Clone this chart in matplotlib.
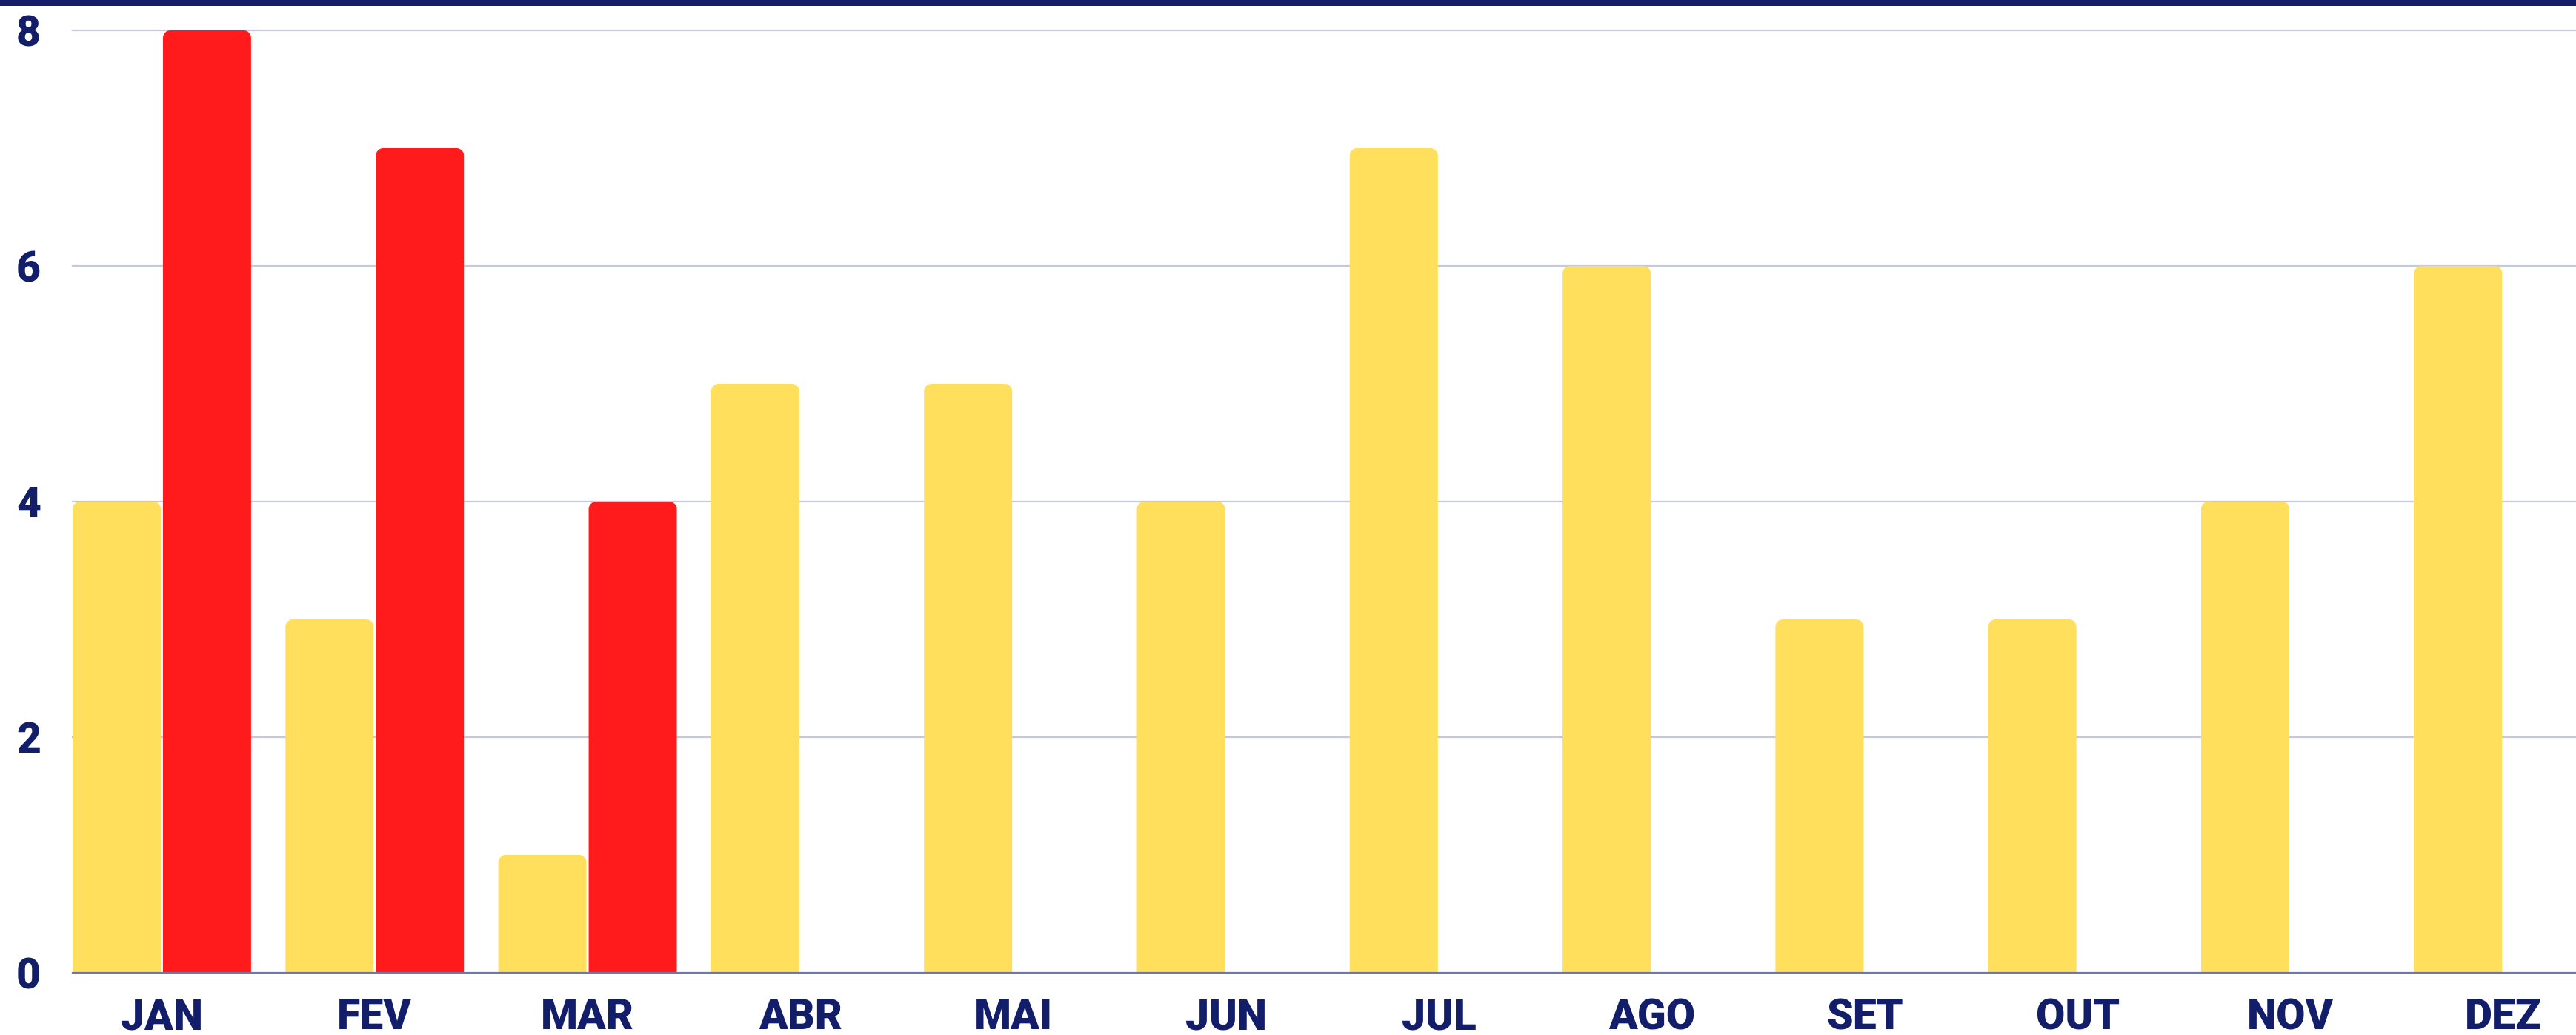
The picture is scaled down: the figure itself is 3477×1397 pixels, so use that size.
import numpy as np
import matplotlib
matplotlib.use("Agg")
import matplotlib.pyplot as plt
from matplotlib.path import Path
from matplotlib.patches import PathPatch, Rectangle

months = ["JAN", "FEV", "MAR", "ABR", "MAI", "JUN", "JUL", "AGO", "SET", "OUT", "NOV", "DEZ"]
serie_amarela = [4, 3, 1, 5, 5, 4, 7, 6, 3, 3, 4, 6]
serie_vermelha = [8, 7, 4, np.nan, np.nan, np.nan, np.nan, np.nan, np.nan, np.nan, np.nan, np.nan]
yticks = [0, 2, 4, 6, 8]

NAVY = "#131e6b"
YELLOW = "#ffdf5b"
RED = "#ff1a1c"
GRID = "#c6c8dc"
BASE = "#6f77a9"

W, H = 3477, 1397
fig = plt.figure(figsize=(W / 100, H / 100), dpi=100)
fig.patch.set_facecolor("white")

ax_left, ax_right = 98, 3477
ax_top, ax_bottom = 41, 1313
ax = fig.add_axes([ax_left / W, (H - ax_bottom) / H, (ax_right - ax_left) / W, (ax_bottom - ax_top) / H])

bw = 0.414
gap = 0.0105
x = np.arange(len(months))
xmin = -bw - gap / 2
xspan = (ax_right - ax_left) / 287.3
ax.set_xlim(xmin, xmin + xspan)
ax.set_ylim(0, 8)

px_per_x = (ax_right - ax_left) / xspan
px_per_y = (ax_bottom - ax_top) / 8.0
r_px = 10
rx, ry = r_px / px_per_x, r_px / px_per_y

def rounded_top(rect, color):
    x0, y0, w, h = rect.get_x(), rect.get_y(), rect.get_width(), rect.get_height()
    if not np.isfinite(h) or h <= 0:
        return
    k = 0.5523
    top = y0 + h
    verts = [
        (x0, y0),
        (x0, top - ry),
        (x0, top - ry + k * ry), (x0 + rx - k * rx, top), (x0 + rx, top),
        (x0 + w - rx, top),
        (x0 + w - rx + k * rx, top), (x0 + w, top - ry + k * ry), (x0 + w, top - ry),
        (x0 + w, y0),
        (x0, y0),
    ]
    codes = [Path.MOVETO, Path.LINETO,
             Path.CURVE4, Path.CURVE4, Path.CURVE4,
             Path.LINETO,
             Path.CURVE4, Path.CURVE4, Path.CURVE4,
             Path.LINETO, Path.CLOSEPOLY]
    ax.add_patch(PathPatch(Path(verts, codes), facecolor=color, edgecolor="none", zorder=3))

b1 = ax.bar(x - (bw + gap) / 2, serie_amarela, width=bw, color=YELLOW)
b2 = ax.bar(x + (bw + gap) / 2, serie_vermelha, width=bw, color=RED)
for rect in b1:
    rounded_top(rect, YELLOW)
    rect.set_visible(False)
for rect in b2:
    rounded_top(rect, RED)
    rect.set_visible(False)

for s in ax.spines.values():
    s.set_visible(False)

for t in yticks[1:]:
    ax.axhline(t, color=GRID, linewidth=1.6, zorder=1, clip_on=False)
ax.axhline(0, color=BASE, linewidth=1.6, zorder=4, clip_on=False)

font = dict(family=["Roboto", "DejaVu Sans"], weight="black", size=41, color=NAVY)
ax.set_yticks(yticks)
ax.set_yticklabels([str(v) for v in yticks], **font)
ax.set_xticks(x)
ax.set_xticklabels(months, **font)
ax.tick_params(axis="y", length=0, pad=31)
ax.tick_params(axis="x", length=0, pad=24)

fig.add_artist(Rectangle((0, (H - 8) / H), 1, 8 / H, transform=fig.transFigure,
                         facecolor=NAVY, edgecolor="none"))

fig.savefig("out.png", dpi=100, facecolor="white")
